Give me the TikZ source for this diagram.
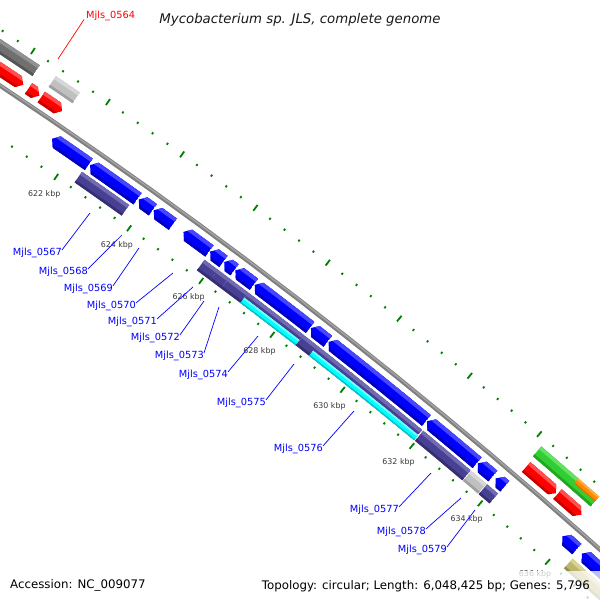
\documentclass[tikz,border=0pt]{standalone}
\usepackage{fontspec}
\usepackage{xfp}
\setmainfont{DejaVu Sans}[ItalicFont={DejaVu Sans Oblique}]
\definecolor{blueM}{RGB}{0,0,255}
\definecolor{blueL}{RGB}{70,70,255}
\definecolor{blueD}{RGB}{0,0,190}
\definecolor{purpM}{RGB}{72,64,146}
\definecolor{purpL}{RGB}{112,106,178}
\definecolor{purpD}{RGB}{52,46,114}
\definecolor{cyanM}{RGB}{0,255,255}
\definecolor{cyanL}{RGB}{110,255,255}
\definecolor{cyanD}{RGB}{0,200,200}
\definecolor{redM}{RGB}{255,0,0}
\definecolor{redL}{RGB}{255,80,80}
\definecolor{redD}{RGB}{200,0,0}
\definecolor{dgrayM}{RGB}{112,112,112}
\definecolor{dgrayL}{RGB}{145,145,145}
\definecolor{dgrayD}{RGB}{85,85,85}
\definecolor{lgrayM}{RGB}{192,192,192}
\definecolor{lgrayL}{RGB}{215,215,215}
\definecolor{lgrayD}{RGB}{160,160,160}
\definecolor{grnM}{RGB}{50,205,50}
\definecolor{grnL}{RGB}{100,225,100}
\definecolor{grnD}{RGB}{35,165,35}
\definecolor{orgM}{RGB}{255,140,0}
\definecolor{orgL}{RGB}{255,175,70}
\definecolor{orgD}{RGB}{215,115,0}
\definecolor{khkM}{RGB}{189,183,107}
\definecolor{khkL}{RGB}{215,210,150}
\definecolor{khkD}{RGB}{150,145,80}
\definecolor{tickg}{RGB}{0,128,0}
\definecolor{labblue}{RGB}{0,0,255}
\definecolor{bbgray}{RGB}{128,128,128}
\definecolor{bblight}{RGB}{165,165,165}
% polar point: kbp, radius (page coordinates, pt)
\newcommand\GP[2]{(\fpeval{round(-2965+(#2)*cosd(55.30-0.4817*((#1)-622)),2)},\fpeval{round(-4540+(#2)*sind(55.30-0.4817*((#1)-622)),2)})}
\newcommand\GArc[3]{\foreach \k in {0,...,4}{\xdef\gpa{\gpa -- \GP{(#1)+((#2)-(#1))*\k/4}{#3}}}}
\newcommand\GOut[5]{%
  \edef\ghh{\fpeval{min(0.13,((#2)-(#1))*0.6)}}%
  \ifnum#5=0
    \xdef\gpa{\GP{#1}{#4}}\GArc{#1}{#2}{#4}\GArc{#2}{#1}{#3}%
  \else\ifnum#5<0
    \xdef\gpa{\GP{#1}{((#3)+(#4))/2}}\GArc{(#1)+\ghh}{#2}{#4}\GArc{#2}{(#1)+\ghh}{#3}%
  \else
    \xdef\gpa{\GP{#1}{#4}}\GArc{#1}{(#2)-\ghh}{#4}\xdef\gpa{\gpa -- \GP{#2}{((#3)+(#4))/2}}\GArc{(#2)-\ghh}{#1}{#3}%
  \fi\fi}
\newcommand\GStrip[4]{\xdef\gpa{\GP{(#1)-0.3}{#3}}\GArc{(#1)-0.3}{(#2)+0.3}{#3}\GArc{(#2)+0.3}{(#1)-0.3}{#4}}
\newcommand\GFeat[6]{%
  \GOut{#1}{#2}{#3}{#4}{#5}\global\let\gol\gpa
  \begin{scope}
    \clip \gol -- cycle;
    \fill[#6M] \gol -- cycle;
    \GStrip{#1}{#2}{(#4)+1}{(#4)-0.28*((#4)-(#3))}\fill[#6L] \gpa -- cycle;
    \GStrip{#1}{#2}{(#3)+0.2*((#4)-(#3))}{(#3)-1}\fill[#6D] \gpa -- cycle;
  \end{scope}}
\begin{document}
\begin{tikzpicture}[x=1pt,y=1pt,
  genelab/.style={font=\fontsize{9.8}{11}\selectfont, text=labblue, inner sep=0pt},
  leader/.style={labblue, line width=0.7pt},
  kbplab/.style={font=\fontsize{7.9}{9}\selectfont, text=black!78, inner sep=0pt},
  infotext/.style={font=\fontsize{11.8}{13}\selectfont, text=black, inner sep=0pt}]
\useasboundingbox (0,0) rectangle (600,-600);
\fill[white] (0,0) rectangle (600,-600);
\begin{scope}
\clip (0,0) rectangle (600,-600);
% ruler dots
\xdef\gpa{}
\foreach \i in {0,...,50}{%
  \pgfmathtruncatemacro\gmm{mod(\i,5)}%
  \ifnum\gmm=0 \def\ghl{3.6}\else\def\ghl{1.1}\fi
  \xdef\gpa{\gpa \GP{618+0.4*\i}{5398-\ghl} -- \GP{618+0.4*\i}{5398+\ghl} \GP{618+0.4*\i}{5307-\ghl} -- \GP{618+0.4*\i}{5307+\ghl}}%
}
\draw[tickg, line width=1.8pt] \gpa;
% backbone
\xdef\gpa{\GP{617}{5351}}\GArc{617}{622.5}{5351}\GArc{622.5}{628}{5351}\GArc{628}{633.5}{5351}\GArc{633.5}{639}{5351}
\draw[bbgray, line width=4.4pt] \gpa;
\xdef\gpa{\GP{617}{5351.6}}\GArc{617}{622.5}{5351.6}\GArc{622.5}{628}{5351.6}\GArc{628}{633.5}{5351.6}\GArc{633.5}{639}{5351.6}
\draw[bblight, line width=1.3pt] \gpa;
% outer ring 2
\GFeat{617}{620.30}{5377}{5390}{0}{dgray}
\GFeat{620.73}{621.37}{5377}{5390}{0}{lgray}
\GFeat{634.21}{635.9}{5377}{5390}{0}{grn}
\GFeat{635.29}{635.9}{5383.5}{5390}{0}{org}
% outer ring 1
\GFeat{617}{620.24}{5358}{5371}{1}{red}
\GFeat{620.38}{620.67}{5358}{5371}{1}{red}
\GFeat{620.72}{621.28}{5358}{5371}{1}{red}
\GFeat{634.25}{635.14}{5358}{5371}{1}{red}
\GFeat{635.17}{635.87}{5358}{5371}{1}{red}
% inner ring 1
\GFeat{621.44}{622.44}{5329}{5343}{-1}{blue}
\GFeat{622.47}{623.77}{5329}{5343}{-1}{blue}
\GFeat{623.80}{624.19}{5329}{5343}{-1}{blue}
\GFeat{624.21}{624.74}{5329}{5343}{-1}{blue}
\GFeat{625.03}{625.75}{5329}{5343}{-1}{blue}
\GFeat{625.77}{626.14}{5329}{5343}{-1}{blue}
\GFeat{626.16}{626.45}{5329}{5343}{-1}{blue}
\GFeat{626.47}{626.99}{5329}{5343}{-1}{blue}
\GFeat{627.01}{628.57}{5329}{5343}{-1}{blue}
\GFeat{628.59}{629.07}{5329}{5343}{-1}{blue}
\GFeat{629.09}{631.89}{5329}{5343}{-1}{blue}
\GFeat{631.91}{633.36}{5329}{5343}{-1}{blue}
\GFeat{633.38}{633.82}{5329}{5343}{-1}{blue}
\GFeat{633.90}{634.17}{5329}{5343}{-1}{blue}
\GFeat{635.87}{636.30}{5329}{5343}{-1}{blue}
\GFeat{636.45}{639}{5329}{5343}{-1}{blue}
% inner ring 2
\GFeat{622.41}{623.70}{5313}{5326}{0}{purp}
\GFeat{625.78}{626.15}{5313}{5326}{0}{purp}
\GFeat{626.15}{626.46}{5313}{5326}{0}{purp}
\GFeat{626.46}{627.00}{5313}{5326}{0}{purp}
\GFeat{627.00}{628.56}{5313}{5326}{0}{purp}
\GFeat{627.00}{628.56}{5313}{5319.5}{0}{cyan}
\GFeat{628.56}{628.94}{5313}{5326}{0}{purp}
\GFeat{628.94}{631.95}{5313}{5326}{0}{purp}
\GFeat{628.94}{631.95}{5313}{5319.5}{0}{cyan}
\GFeat{631.98}{633.36}{5313}{5326}{0}{purp}
\GFeat{633.38}{633.82}{5313}{5326}{0}{lgray}
\GFeat{633.84}{634.16}{5313}{5326}{0}{purp}
\GFeat{636.37}{639}{5313}{5326}{0}{khk}
% kbp labels
\foreach \kb in {622,624,...,634}{%
  \edef\gtmp{\noexpand\node[kbplab] (k\kb) at \GP{\kb}{5286} {\kb\space kbp};}\gtmp}
\edef\gtmp{\noexpand\node[kbplab, yshift=2pt] (k636) at \GP{636}{5288} {636 kbp};}\gtmp
% translucent legend box
\fill[white, opacity=0.75] (256,-571) rectangle (600,-600);
\end{scope}
% gene labels
\coordinate (e0564) at (58,-59);
\coordinate (e0567) at (90,-213);
\coordinate (e0568) at (122,-235);
\coordinate (e0569) at (139,-248);
\coordinate (e0570) at (173,-273);
\coordinate (e0571) at (193,-287);
\coordinate (e0572) at (204,-301);
\coordinate (e0573) at (219,-307);
\coordinate (e0574) at (258,-336);
\coordinate (e0575) at (294,-364);
\coordinate (e0576) at (354,-411);
\coordinate (e0577) at (431,-473);
\coordinate (e0578) at (461,-498);
\coordinate (e0579) at (475,-510);
\node[genelab, text=red, anchor=west] (l0564) at (86,-16) {Mjls\_0564};
\draw[red, line width=0.7pt] ([xshift=-2pt,yshift=1.5pt]l0564.south west) -- (e0564);
\foreach \g/\x/\y in {0567/62/253, 0568/88/272, 0569/113/289, 0570/136/306, 0571/157/322,
  0572/180/338, 0573/204/356, 0574/228/375, 0575/266/403, 0576/323/449, 0577/399/510,
  0578/426/532, 0579/447/550}{%
  \node[genelab, anchor=east] (l\g) at (\x,-\y) {Mjls\_\g};
  \draw[leader] ([yshift=-2pt]l\g.north east) -- (e\g);
}
% title and info
\node[font=\fontsize{13.3}{15}\selectfont\itshape, text=black!90, inner sep=0pt, anchor=base] (title) at (300,-23.5) {Mycobacterium sp. JLS, complete genome};
\node[infotext, anchor=base west] (acc) at (10,-588) {Accession: NC\_009077};
\node[infotext, anchor=base east] (topo) at (590,-589) {Topology: circular; Length: 6,048,425 bp; Genes: 5,796};
\end{tikzpicture}
\end{document}
